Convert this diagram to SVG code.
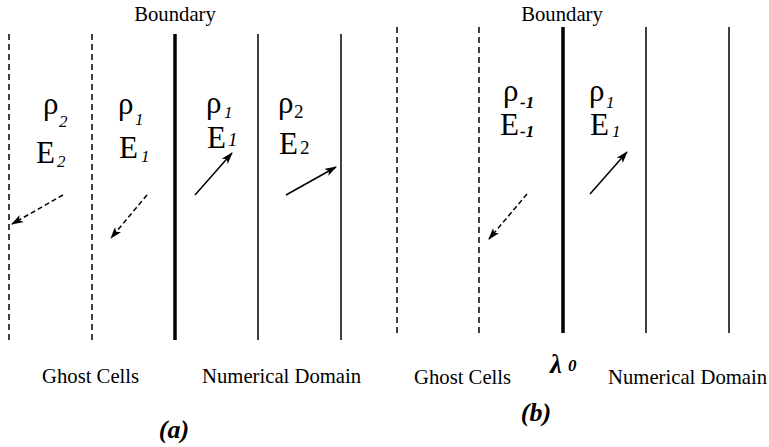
<svg xmlns="http://www.w3.org/2000/svg" width="769" height="447" viewBox="0 0 769 447" font-family="'Liberation Serif','Times New Roman',serif">
<style>
text{font-family:"Liberation Serif","Times New Roman",serif;fill:#000}
.lbl{font-size:20.7px}
.g{font-size:31px}
.E{font-size:31px}
.s{font-size:17px;font-style:italic}
.su{font-size:19px}
.bi{font-weight:bold;font-style:italic}
.cap{font-size:26px;font-weight:bold;font-style:italic}
.dl{stroke:#000;stroke-width:1.5;stroke-dasharray:6 4;fill:none}
.sl{stroke:#000;stroke-width:1.5;fill:none}
.tl{stroke:#000;stroke-width:3.5;fill:none}
.ar{stroke:#000;stroke-width:1.5;fill:none;marker-end:url(#ah)}
.ad{stroke:#000;stroke-width:1.5;fill:none;stroke-dasharray:5 3;marker-end:url(#ah)}
</style>
<defs>
<marker id="ah" viewBox="0 0 12 8" refX="11" refY="4" markerWidth="12" markerHeight="8" markerUnits="userSpaceOnUse" orient="auto">
<path d="M0,0 L12,4 L0,8 L3,4 z" fill="#000"/>
</marker>
</defs>
<rect width="769" height="447" fill="#fff"/>
<g id="panel-a">
<g id="a-lines">
<line class="dl" x1="9" y1="34" x2="9" y2="340"/>
<line class="dl" x1="92" y1="34" x2="92" y2="340"/>
<line class="tl" x1="175" y1="34" x2="175" y2="340"/>
<line class="sl" x1="258" y1="34" x2="258" y2="340"/>
<line class="sl" x1="341" y1="34" x2="341" y2="340" stroke-width="2"/>
</g>
<g id="a-cell1"><text class="g" x="43" y="114">ρ</text><text class="s" x="59" y="127">2</text><text class="E" x="36" y="163">E</text><text class="s" x="57" y="167">2</text></g>
<g id="a-cell2"><text class="g" x="118" y="114">ρ</text><text class="s" x="135" y="125">1</text><text class="E" x="119" y="158">E</text><text class="s" x="141" y="162">1</text></g>
<g id="a-cell3"><text class="g" x="206" y="113">ρ</text><text class="s" x="224" y="118">1</text><text class="E" x="207" y="148">E</text><text class="s su" x="228" y="146">1</text></g>
<g id="a-cell4"><text class="g" x="278" y="113">ρ</text><text class="su" x="294" y="118">2</text><text class="E" x="279" y="154">E</text><text class="su" x="300" y="154">2</text></g>
<g id="a-labels">
<text class="lbl" x="175" y="21" text-anchor="middle">Boundary</text>
<text class="lbl" x="42" y="383">Ghost Cells</text>
<text class="lbl" x="202" y="383">Numerical Domain</text>
<text class="cap" x="174" y="438" text-anchor="middle">(a)</text>
</g>
</g>
<g id="panel-b">
<g id="b-lines">
<line class="dl" x1="397" y1="27" x2="397" y2="333"/>
<line class="dl" x1="479" y1="27" x2="479" y2="333"/>
<line class="tl" x1="563" y1="27" x2="563" y2="333"/>
<line class="sl" x1="646" y1="27" x2="646" y2="333"/>
<line class="sl" x1="729" y1="27" x2="729" y2="333"/>
</g>
<g id="b-cell1"><text class="g" x="503" y="101">ρ</text><text class="s bi" x="520" y="108">-1</text><text class="E" x="500" y="135">E</text><text class="s bi" x="520" y="137">-1</text></g>
<g id="b-cell2"><text class="g" x="589" y="101">ρ</text><text class="s" x="606" y="108">1</text><text class="E" x="590" y="135">E</text><text class="s" x="612" y="137">1</text></g>
<g id="b-labels">
<text class="lbl" x="562" y="21" text-anchor="middle">Boundary</text>
<text class="lbl" x="414" y="384">Ghost Cells</text>
<text class="lbl" x="608" y="384">Numerical Domain</text>
<text x="550" y="373" style="font-size:27px;font-weight:bold;font-style:italic">λ</text><text class="s bi" x="568" y="371">0</text>
<text class="cap" x="536" y="421" text-anchor="middle">(b)</text>
</g>
</g>
<g id="connectors">
<line class="ad" x1="63" y1="195" x2="12" y2="224"/>
<line class="ad" x1="147" y1="195" x2="111" y2="238"/>
<line class="ar" x1="195" y1="195" x2="232" y2="153"/>
<line class="ar" x1="286" y1="195" x2="336" y2="167"/>
<line class="ad" x1="527" y1="194" x2="489" y2="239"/>
<line class="ar" x1="590" y1="194" x2="627" y2="152"/>
</g>
</svg>
